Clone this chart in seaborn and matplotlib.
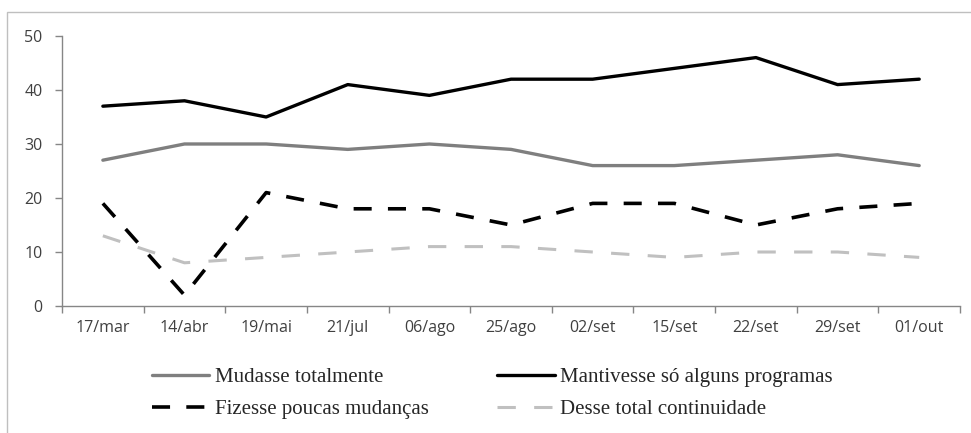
import matplotlib
matplotlib.use("Agg")
import matplotlib.pyplot as plt
import seaborn as sns
from matplotlib.patches import Rectangle
from matplotlib.ticker import FixedLocator

datas = ['17/mar', '14/abr', '19/mai', '21/jul', '06/ago', '25/ago',
         '02/set', '15/set', '22/set', '29/set', '01/out']
mudasse = [27, 30, 30, 29, 30, 29, 26, 26, 27, 28, 26]
mantivesse = [37, 38, 35, 41, 39, 42, 42, 44, 46, 41, 42]
fizesse = [19, 2, 21, 18, 18, 15, 19, 19, 15, 18, 19]
desse = [13, 8, 9, 10, 11, 11, 10, 9, 10, 10, 9]

series = [
    ('Mudasse totalmente', mudasse, '#7f7f7f', '-', 2.4),
    ('Fizesse poucas mudanças', fizesse, 'black', (0, (5, 4.5)), 2.6),
    ('Mantivesse só alguns programas', mantivesse, 'black', '-', 2.4),
    ('Desse total continuidade', desse, '#c0c0c0', (0, (6, 6)), 2.2),
]

sns.set_style("white")
plt.rcParams['font.family'] = ['Open Sans', 'DejaVu Sans']

fig = plt.figure(figsize=(9.71, 4.33), dpi=100)
ax = fig.add_axes([0.0639, 0.2933, 0.9248, 0.6236])

x = list(range(len(datas)))
for name, vals, color, ls, lw in series:
    sns.lineplot(x=x, y=vals, ax=ax, color=color, linestyle=ls, linewidth=lw,
                 label=name, legend=False)

ax.set_xlim(-0.5, len(datas) - 0.5)
ax.set_ylim(0, 50)
ax.set_yticks([0, 10, 20, 30, 40, 50])
ax.set_xticks(x)
ax.set_xticklabels(datas)
ax.xaxis.set_minor_locator(FixedLocator([i - 0.5 for i in range(len(datas) + 1)]))
ax.tick_params(axis='x', which='major', length=0, pad=10, labelsize=11.5, labelcolor='#404040')
ax.tick_params(axis='x', which='minor', length=5, width=1, color='#868686', direction='out', bottom=True)
ax.tick_params(axis='y', length=5, width=1, color='#868686', direction='out', left=True,
               labelsize=11.5, labelcolor='#404040', pad=9)
for side in ['top', 'right']:
    ax.spines[side].set_visible(False)
for side in ['left', 'bottom']:
    ax.spines[side].set_color('#868686')
    ax.spines[side].set_linewidth(1)

handles, labels = ax.get_legend_handles_labels()
fig.legend(handles, labels, ncol=2, loc='center', bbox_to_anchor=(0.507, 0.091),
           frameon=False, prop={'family': 'Liberation Serif', 'size': 15},
           handlelength=2.75, handletextpad=0.25, columnspacing=3.3, labelspacing=0.6,
           borderpad=0)

# moldura externa da figura
fig.patches.append(Rectangle((7 / 971, -0.05), 1.1, 1 - 12 / 433 + 0.05,
                             transform=fig.transFigure, fill=False,
                             edgecolor='#bfbfbf', linewidth=1))

fig.savefig('out.png', dpi=100)
